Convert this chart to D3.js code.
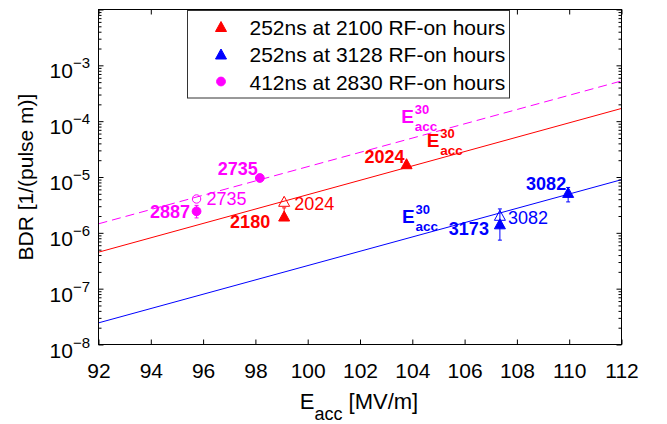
<!DOCTYPE html>
<html><head><meta charset="utf-8">
<script src="https://cdn.jsdelivr.net/npm/d3@7"></script>
<style>
body{margin:0;background:#fff}
svg{display:block;font-family:"Liberation Sans",Arial,Helvetica,sans-serif}
</style>
</head><body>
<svg id="chart" width="667" height="424"></svg>
<script>
// ---------- data ----------
const xDomain = [92, 112];
const yDomain = [1e-8, 1e-2];
const xTickValues = [92, 94, 96, 98, 100, 102, 104, 106, 108, 110, 112];
const yTickExponents = [-8, -7, -6, -5, -4, -3];
const yMajorExponents = [-8, -7, -6, -5, -4, -3, -2];

const seriesNames = ["252ns at 2100 RF-on hours", "252ns at 3128 RF-on hours", "412ns at 2830 RF-on hours"];
const seriesColors = ["#ff0000", "#0000ff", "#ff00ff"];
const seriesShapes = ["triangle", "triangle", "circle"];

// E^30 fit lines (end points)
const fitE = [92, 112];
const fitRed = [4.5e-7, 1.69e-4];
const fitBlue = [2.44e-8, 8.95e-6];
const fitMagenta = [1.45e-6, 5.25e-4];

// measured points (filled)
const redE = [99.1, 103.78];
const redBDR = [2.0e-6, 1.73e-5];
const redLo = [1.68e-6, 1.73e-5];
const redHi = [2.8e-6, 1.73e-5];
const redHours = ["2180", "2024"];

const blueE = [107.35, 109.96];
const blueBDR = [1.45e-6, 5.3e-6];
const blueLo = [7.4e-7, 3.58e-6];
const blueHi = [2.68e-6, 6.5e-6];
const blueHours = ["3173", "3082"];

const magentaE = [95.75, 98.17];
const magentaBDR = [2.43e-6, 9.6e-6];
const magentaLo = [1.85e-6, 9.6e-6];
const magentaHi = [3.1e-6, 9.6e-6];
const magentaHours = ["2887", "2735"];

// scaled points (open markers)
const redOpenE = [99.1];
const redOpenBDR = [3.67e-6];
const redOpenHours = ["2024"];
const blueOpenE = [107.35];
const blueOpenBDR = [2.06e-6];
const blueOpenHours = ["3082"];
const magentaOpenE = [95.75];
const magentaOpenBDR = [4.04e-6];
const magentaOpenHours = ["2735"];

// E^30 line labels (data coordinates)
const lineLabelE = [103.58, 104.55, 103.61];
const lineLabelBDR = [9.16e-5, 3.5e-5, 1.53e-6];

// ---------- drawing ----------
const svg = d3.select("#chart");
const L = 98.5, R = 621.5, T = 9.5, B = 344.5;
const x = d3.scaleLinear().domain(xDomain).range([L, R]);
const y = d3.scaleLog().domain(yDomain).range([B, T]);
const FONT = 21;

const plot = svg.append("g");

// fit lines
const fits = [
  {v: fitRed, c: seriesColors[0], dash: null},
  {v: fitBlue, c: seriesColors[1], dash: null},
  {v: fitMagenta, c: seriesColors[2], dash: "9,5"}
];
const lineGen = d3.line().x(d => x(d[0])).y(d => y(d[1]));
fits.forEach(f => {
  plot.append("path")
    .attr("d", lineGen(fitE.map((e, i) => [e, f.v[i]])))
    .attr("fill", "none").attr("stroke", f.c).attr("stroke-width", 1)
    .attr("stroke-dasharray", f.dash);
});

const triPath = (w, h) => `M0,${-h/2}L${w/2},${h/2}L${-w/2},${h/2}Z`;
function marker(g, shape, px, py, color, filled) {
  if (shape === "triangle") {
    g.append("path").attr("d", triPath(11, 10))
      .attr("transform", `translate(${px},${py})`)
      .attr("fill", filled ? color : "none")
      .attr("stroke", color).attr("stroke-width", 1);
  } else {
    g.append("circle").attr("cx", px).attr("cy", py).attr("r", filled ? 4.4 : 4.2)
      .attr("fill", filled ? color : "none")
      .attr("stroke", color).attr("stroke-width", 1);
  }
}

const filledSets = [
  {E: redE, V: redBDR, lo: redLo, hi: redHi, c: seriesColors[0], s: seriesShapes[0]},
  {E: blueE, V: blueBDR, lo: blueLo, hi: blueHi, c: seriesColors[1], s: seriesShapes[1]},
  {E: magentaE, V: magentaBDR, lo: magentaLo, hi: magentaHi, c: seriesColors[2], s: seriesShapes[2]}
];
const openSets = [
  {E: redOpenE, V: redOpenBDR, c: seriesColors[0], s: seriesShapes[0]},
  {E: blueOpenE, V: blueOpenBDR, c: seriesColors[1], s: seriesShapes[1]},
  {E: magentaOpenE, V: magentaOpenBDR, c: seriesColors[2], s: seriesShapes[2]}
];

// error bars
filledSets.forEach(s => {
  s.E.forEach((e, i) => {
    const px = x(e), y1 = y(s.lo[i]), y2 = y(s.hi[i]);
    if (Math.abs(y1 - y2) < 0.5) return;
    plot.append("line").attr("x1", px).attr("x2", px).attr("y1", y1).attr("y2", y2)
      .attr("stroke", s.c).attr("stroke-width", 1);
    [y1, y2].forEach(yy => plot.append("line").attr("x1", px - 2).attr("x2", px + 2)
      .attr("y1", yy).attr("y2", yy).attr("stroke", s.c).attr("stroke-width", 1));
  });
});
openSets.forEach(s => s.E.forEach((e, i) => marker(plot, s.s, x(e), y(s.V[i]), s.c, false)));
filledSets.forEach(s => s.E.forEach((e, i) => marker(plot, s.s, x(e), y(s.V[i]), s.c, true)));

// point labels (offsets in px relative to the point)
const pointLabels = [
  {E: redE[0], V: redBDR[0], t: redHours[0], c: seriesColors[0], bold: true, dx: -14, dy: 12, a: "end"},
  {E: redE[1], V: redBDR[1], t: redHours[1], c: seriesColors[0], bold: true, dx: -2, dy: -1, a: "end"},
  {E: redOpenE[0], V: redOpenBDR[0], t: redOpenHours[0], c: seriesColors[0], bold: false, dx: 10, dy: 8.5, a: "start"},
  {E: blueE[0], V: blueBDR[0], t: blueHours[0], c: seriesColors[1], bold: true, dx: -11, dy: 11, a: "end"},
  {E: blueE[1], V: blueBDR[1], t: blueHours[1], c: seriesColors[1], bold: true, dx: -2, dy: -2, a: "end"},
  {E: blueOpenE[0], V: blueOpenBDR[0], t: blueOpenHours[0], c: seriesColors[1], bold: false, dx: 8, dy: 9, a: "start"},
  {E: magentaE[0], V: magentaBDR[0], t: magentaHours[0], c: seriesColors[2], bold: true, dx: -6.5, dy: 6.5, a: "end"},
  {E: magentaE[1], V: magentaBDR[1], t: magentaHours[1], c: seriesColors[2], bold: true, dx: -2, dy: -3, a: "end"},
  {E: magentaOpenE[0], V: magentaOpenBDR[0], t: magentaOpenHours[0], c: seriesColors[2], bold: false, dx: 10, dy: 6.5, a: "start"}
];
pointLabels.forEach(p => {
  plot.append("text").attr("x", x(p.E) + p.dx).attr("y", y(p.V) + p.dy)
    .attr("text-anchor", p.a).attr("fill", p.c)
    .attr("font-size", 18).attr("font-weight", p.bold ? "bold" : "normal")
    .text(p.t);
});

// E^30_acc labels
const lineLabelColors = [seriesColors[2], seriesColors[0], seriesColors[1]];
lineLabelE.forEach((e, i) => {
  const px = x(e), py = y(lineLabelBDR[i]);
  const g = plot.append("g").attr("fill", lineLabelColors[i]).attr("font-weight", "bold");
  g.append("text").attr("x", px).attr("y", py).attr("font-size", 19).text("E");
  g.append("text").attr("x", px + 13.5).attr("y", py - 9).attr("font-size", 13).text("30");
  g.append("text").attr("x", px + 13.5).attr("y", py + 8).attr("font-size", 13.5).text("acc");
});

// axes
const ax = svg.append("g").attr("stroke-width", 1);
function cleanAxis(g) { g.select(".domain").remove(); g.selectAll("line").attr("stroke", "#000"); }

ax.append("g").attr("transform", `translate(0,${B})`)
  .call(d3.axisBottom(x).tickValues(xTickValues).tickSize(-5).tickPadding(18.5).tickFormat(d3.format("d")))
  .call(cleanAxis)
  .call(g => g.selectAll("text").attr("font-size", FONT).attr("fill", "#000")
    .attr("font-family", '"Liberation Sans",Arial,sans-serif'));
ax.append("g").attr("transform", `translate(0,${T})`)
  .call(d3.axisTop(x).tickValues(xTickValues).tickSize(-5).tickFormat(""))
  .call(cleanAxis);

const majors = yMajorExponents.map(k => Math.pow(10, k));
const minors = [];
yTickExponents.forEach(k => { for (let m = 2; m <= 9; m++) minors.push(m * Math.pow(10, k)); });

[["left", L], ["right", R]].forEach(([side, pos]) => {
  const mk = side === "left" ? d3.axisLeft : d3.axisRight;
  ax.append("g").attr("transform", `translate(${pos},0)`)
    .call(mk(y).tickValues(majors).tickSize(-5).tickFormat(""))
    .call(cleanAxis);
  ax.append("g").attr("transform", `translate(${pos},0)`)
    .call(mk(y).tickValues(minors).tickSize(-3).tickFormat(""))
    .call(cleanAxis);
});

// y tick labels with superscripts
yTickExponents.forEach(k => {
  const t = ax.append("text").attr("x", L - 8.5).attr("y", y(Math.pow(10, k)) + 13)
    .attr("text-anchor", "end").attr("fill", "#000").attr("font-size", FONT);
  t.append("tspan").text("10");
  t.append("tspan").attr("dy", -10).attr("font-size", 15).text("\u2212" + Math.abs(k));
});

// box
ax.append("rect").attr("x", L).attr("y", T).attr("width", R - L).attr("height", B - T)
  .attr("fill", "none").attr("stroke", "#000").attr("stroke-width", 1);

// axis titles
const xt = svg.append("text").attr("x", 359).attr("y", 408.5).attr("text-anchor", "middle")
  .attr("fill", "#000").attr("font-size", 22);
xt.append("tspan").text("E");
xt.append("tspan").attr("dy", 11.5).attr("font-size", 18).text("acc");
xt.append("tspan").attr("dy", -11.5).text(" [MV/m]");

svg.append("text").attr("transform", `translate(33,177) rotate(-90)`)
  .attr("text-anchor", "middle").attr("fill", "#000").attr("font-size", FONT)
  .text("BDR [1/(pulse m)]");

// legend
const lg = svg.append("g");
lg.append("rect").attr("x", 187.5).attr("y", 10.5).attr("width", 322).attr("height", 87.5)
  .attr("fill", "#fff").attr("stroke", "#333").attr("stroke-width", 1);
seriesNames.forEach((n, i) => {
  const cy = 26.5 + i * 27.5;
  marker(lg, seriesShapes[i], 221, cy, seriesColors[i], true);
  lg.append("text").attr("x", 249.5).attr("y", cy + 8).attr("font-size", FONT).attr("fill", "#000").text(n);
});
</script>
</body></html>
